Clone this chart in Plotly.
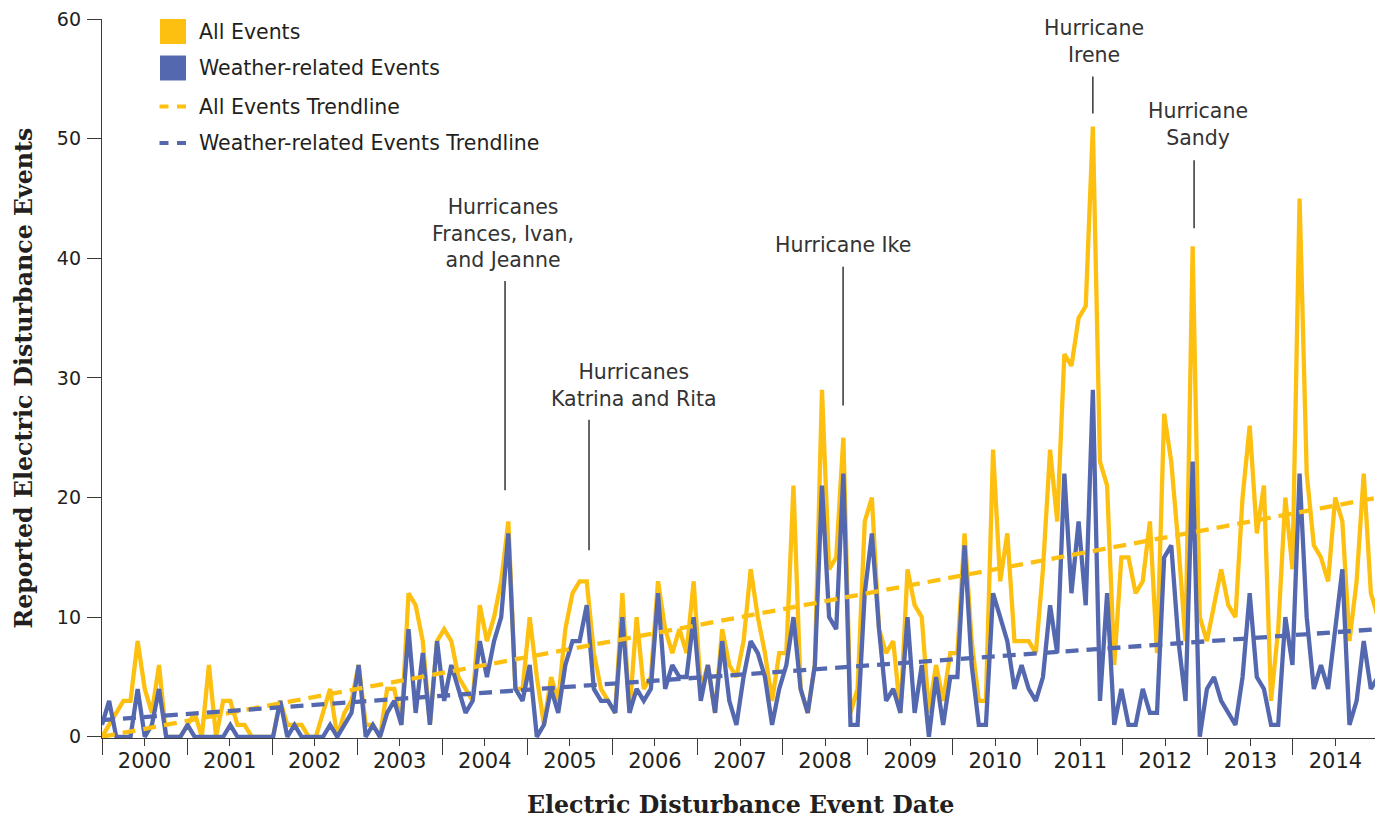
import plotly.graph_objects as go

# ---------------- data ----------------
years = [str(y) for y in range(2000, 2015)]

all_events = [
    0, 1, 2, 3, 3, 8, 4, 2, 6, 0, 0, 0,          # 2000
    1, 2, 0, 6, 0, 3, 3, 1, 1, 0, 0, 0,          # 2001
    0, 3, 1, 1, 1, 0, 0, 2, 4, 0, 2, 3,          # 2002
    6, 1, 1, 0, 4, 4, 1, 12, 11, 8, 1, 8,        # 2003
    9, 8, 5, 4, 3, 11, 8, 10, 13, 18, 4, 4,      # 2004
    10, 5, 1, 5, 3, 9, 12, 13, 13, 7, 4, 3,      # 2005
    2, 12, 2, 10, 4, 5, 13, 9, 7, 9, 7, 13,      # 2006
    4, 6, 2, 9, 6, 5, 8, 14, 10, 7, 3, 7,        # 2007
    7, 21, 4, 2, 6, 29, 14, 15, 25, 2, 4, 18,    # 2008
    20, 9, 7, 8, 2, 14, 11, 10, 2, 6, 3, 7,      # 2009
    7, 17, 8, 3, 3, 24, 13, 17, 8, 8, 8, 7,      # 2010
    14, 24, 18, 32, 31, 35, 36, 51, 23, 21, 6, 15,  # 2011
    15, 12, 13, 18, 7, 27, 23, 16, 8, 41, 10, 8,    # 2012
    11, 14, 11, 10, 20, 26, 17, 21, 3, 9, 20, 14,   # 2013
    45, 22, 16, 15, 13, 20, 18, 8, 13, 22, 12, 10,  # 2014
]

weather_events = [
    1, 3, 0, 0, 0, 4, 0, 1, 4, 0, 0, 0,          # 2000
    1, 0, 0, 0, 0, 0, 1, 0, 0, 0, 0, 0,          # 2001
    0, 3, 0, 1, 0, 0, 0, 0, 1, 0, 1, 2,          # 2002
    6, 0, 1, 0, 2, 3, 1, 9, 2, 7, 1, 8,          # 2003
    3, 6, 4, 2, 3, 8, 5, 8, 10, 17, 4, 3,        # 2004
    6, 0, 1, 4, 2, 6, 8, 8, 11, 4, 3, 3,         # 2005
    2, 10, 2, 4, 3, 4, 12, 4, 6, 5, 5, 10,       # 2006
    3, 6, 2, 8, 3, 1, 5, 8, 7, 5, 1, 4,          # 2007
    6, 10, 4, 2, 6, 21, 10, 9, 22, 1, 1, 12,     # 2008
    17, 9, 3, 4, 2, 10, 2, 6, 0, 5, 1, 5,        # 2009
    5, 16, 6, 1, 1, 12, 10, 8, 4, 6, 4, 3,       # 2010
    5, 11, 7, 22, 12, 18, 11, 29, 3, 12, 1, 4,   # 2011
    1, 1, 4, 2, 2, 15, 16, 8, 3, 23, 0, 4,       # 2012
    5, 3, 2, 1, 5, 12, 5, 4, 1, 1, 10, 6,        # 2013
    22, 10, 4, 6, 4, 9, 14, 1, 3, 8, 4, 5,       # 2014
]

# trendline end values (first month, last month)
trend_all = [0.0, 20.0]
trend_weather = [1.4, 9.0]

y_ticks = [0, 10, 20, 30, 40, 50, 60]

hurricanes = [
    # text, text x (month), text y, leader x, leader y0, leader y1
    ("Hurricanes<br>Frances, Ivan,<br>and Jeanne", 56.26, 42.1, 56.54, 20.6, 38.1),
    ("Hurricanes<br>Katrina and Rita", 74.6, 29.4, 68.32, 15.6, 26.5),
    ("Hurricane Ike", 103.96, 41.1, 103.96, 27.7, 39.3),
    ("Hurricane<br>Irene", 139.1, 58.1, 139.0, 52.1, 55.2),
    ("Hurricane<br>Sandy", 153.7, 51.2, 153.2, 42.5, 48.2),
]

legend_items = [
    ("All Events", "box", "yellow"),
    ("Weather-related Events", "box", "blue"),
    ("All Events Trendline", "dash", "yellow"),
    ("Weather-related Events Trendline", "dash", "blue"),
]

# ---------------- styling ----------------
YEL = "#FDC010"
BLU = "#5468B0"
COL = {"yellow": YEL, "blue": BLU}
TXT = "#231F20"
AX = "#3a3a3a"
SANS = "DejaVu Sans"
SERIF = "DejaVu Serif"
LW = 4.3

OFF = 8                      # page body margin in the browser
W, H = 1383 - OFF, 818 - OFF
L, R, T, B = 102 - OFF, 5, 19 - OFF, 80
PW, PH = W - L - R, H - T - B
PLOT_BOTTOM = OFF + H - B    # page pixel of plot bottom


def fx(px):
    """page pixel x -> paper fraction"""
    return (px - (OFF + L)) / PW


def fy(py):
    """page pixel y -> paper fraction"""
    return (PLOT_BOTTOM - py) / PH


n = len(all_events)
months = list(range(n))
x_end = n - 1
yr_w = x_end / len(years)
year_bounds = [k * yr_w for k in range(len(years) + 1)]
year_mids = [(k + 0.5) * yr_w for k in range(len(years))]

fig = go.Figure()
fig.add_trace(go.Scatter(x=months, y=all_events, mode="lines",
                         line=dict(color=YEL, width=LW), name="All Events"))
fig.add_trace(go.Scatter(x=months, y=weather_events, mode="lines",
                         line=dict(color=BLU, width=LW), name="Weather-related Events"))
fig.add_trace(go.Scatter(x=[0, x_end], y=trend_all, mode="lines",
                         line=dict(color=YEL, width=LW, dash="13px,8px"),
                         name="All Events Trendline"))
fig.add_trace(go.Scatter(x=[0, x_end], y=trend_weather, mode="lines",
                         line=dict(color=BLU, width=LW, dash="13px,8px"),
                         name="Weather-related Events Trendline"))

shapes = []
annotations = []

# hurricane labels and leader lines
for text, tx, ty, lx, ly0, ly1 in hurricanes:
    shapes.append(dict(type="line", xref="x", yref="y", x0=lx, x1=lx, y0=ly0, y1=ly1,
                       line=dict(color="#333333", width=1.5)))
    annotations.append(dict(text=text, x=tx, y=ty, xref="x", yref="y", showarrow=False,
                            xanchor="center", yanchor="middle", align="center",
                            font=dict(family=SANS, size=20.5, color="#333333")))

# custom legend (squares / dashes + labels)
row_y = [31.5, 68, 106.5, 143]
for (label, kind, c), ry in zip(legend_items, row_y):
    if kind == "box":
        shapes.append(dict(type="rect", xref="paper", yref="paper",
                           x0=fx(160), x1=fx(186), y0=fy(ry + 12.5), y1=fy(ry - 12.5),
                           fillcolor=COL[c], line=dict(width=0)))
    else:
        for a, b in ((159.5, 168.5), (177, 186)):
            shapes.append(dict(type="line", xref="paper", yref="paper",
                               x0=fx(a), x1=fx(b), y0=fy(ry), y1=fy(ry),
                               line=dict(color=COL[c], width=4)))
    annotations.append(dict(text=label, x=fx(197), y=fy(ry), xref="paper", yref="paper",
                            showarrow=False, xanchor="left", yanchor="middle",
                            font=dict(family=SANS, size=20.5, color=TXT)))

# axis titles
annotations.append(dict(text="<b>Electric Disturbance Event Date</b>", xref="paper", yref="paper",
                        x=0.5, y=0, yshift=-(805 - PLOT_BOTTOM), showarrow=False,
                        xanchor="center", yanchor="middle",
                        font=dict(family=SERIF, size=23.7, color=TXT)))
annotations.append(dict(text="<b>Reported Electric Disturbance Events</b>", xref="paper", yref="paper",
                        x=fx(23.5), y=fy(378), textangle=-90, showarrow=False,
                        xanchor="center", yanchor="middle",
                        font=dict(family=SERIF, size=23.7, color=TXT)))

fig.update_layout(
    width=W, height=H,
    margin=dict(l=L, r=R, t=T, b=B, pad=0, autoexpand=False),
    paper_bgcolor="white", plot_bgcolor="white",
    showlegend=False,
    shapes=shapes, annotations=annotations,
    xaxis=dict(range=[0, x_end], showgrid=False, zeroline=False, automargin=False,
               showline=True, linecolor=AX, linewidth=1.3,
               tickmode="array", tickvals=year_mids, ticktext=years,
               ticks="outside", ticklen=7, tickwidth=1.3, tickcolor=AX,
               ticklabelstandoff=-3, ticklabeloverflow="allow",
               tickfont=dict(family=SANS, size=21, color=TXT),
               minor=dict(tickvals=year_bounds, ticks="outside", ticklen=16,
                          tickwidth=1.3, tickcolor=AX)),
    yaxis=dict(range=[-0.1, 60], showgrid=False, zeroline=False, automargin=False,
               showline=True, linecolor=AX, linewidth=1.3,
               tickmode="array", tickvals=y_ticks,
               ticks="outside", ticklen=14, tickwidth=1.3, tickcolor=AX,
               ticklabelstandoff=2, ticklabeloverflow="allow",
               tickfont=dict(family=SANS, size=19, color=TXT)),
)

fig.write_html("out.html", config={"displayModeBar": False})
